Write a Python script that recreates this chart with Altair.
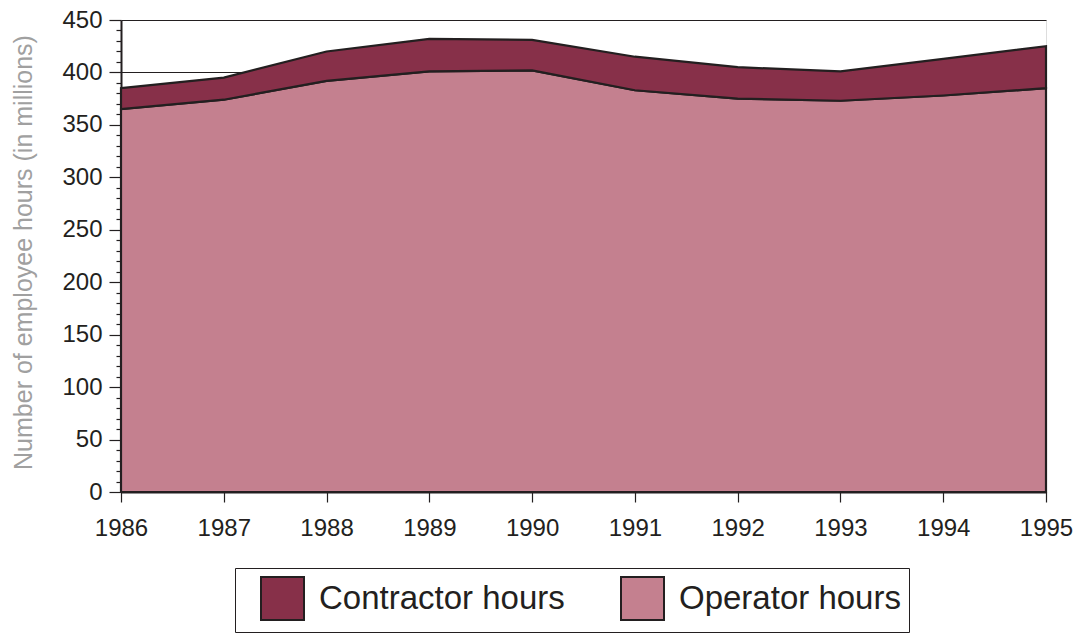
import altair as alt
import pandas as pd

years = [1986, 1987, 1988, 1989, 1990, 1991, 1992, 1993, 1994, 1995]
operator_hours = [365, 374, 392, 401, 402, 383, 375, 373, 378, 385]
contractor_hours = [20, 21, 28, 31, 29, 32, 30, 28, 35, 40]
series_names = ["Contractor hours", "Operator hours"]
series_colors = ["#873049", "#C4808F"]
y_ticks = list(range(0, 451, 10))

rows = []
for yr, op, ct in zip(years, operator_hours, contractor_hours):
    rows.append({"year": yr, "series": "Operator hours", "low": 0, "high": op})
    rows.append({"year": yr, "series": "Contractor hours", "low": op, "high": op + ct})
df = pd.DataFrame(rows)

FONT = "Liberation Sans"
DARK = "#231F20"

chart = alt.Chart(df).mark_area(stroke=DARK, strokeWidth=2.2, opacity=1).encode(
    x=alt.X("year:Q",
            scale=alt.Scale(domain=[1986, 1995], nice=False, zero=False),
            axis=alt.Axis(values=years, format="d", title=None, tickSize=10,
                          labelPadding=14, labelFontSize=24, labelColor=DARK,
                          labelFont=FONT, tickColor=DARK, tickWidth=1.2,
                          domainColor=DARK, domainWidth=2, grid=False,
                          labelFlush=False)),
    y=alt.Y("high:Q",
            scale=alt.Scale(domain=[0, 450], nice=False),
            axis=alt.Axis(values=y_ticks,
                          labelExpr="datum.value % 50 === 0 ? datum.label : ''",
                          tickSize={"condition": {"test": "datum.value % 50 === 0", "value": 12}, "value": 5},
                          labelPadding=7, labelFontSize=24, labelColor=DARK,
                          labelFont=FONT, tickColor=DARK, tickWidth=1.2,
                          domainColor=DARK, domainWidth=2,
                          grid=True, gridColor=DARK, gridWidth=1,
                          gridOpacity={"condition": {"test": "datum.value % 50 === 0", "value": 1}, "value": 0},
                          title="Number of employee hours (in millions)",
                          titleFontSize=25, titleFont=FONT, titleFontWeight="normal",
                          titleColor="#a0a0a0", titleAngle=270, titleAlign="center",
                          titleBaseline="middle", titleX=-98, titleY=232)),
    y2="low:Q",
    color=alt.Color("series:N",
                    scale=alt.Scale(domain=series_names, range=series_colors),
                    legend=alt.Legend(orient="none", legendX=114, legendY=548,
                                      direction="horizontal", columns=2,
                                      title=" ", titleOrient="left", titleFontSize=1,
                                      titlePadding=17,
                                      symbolType="square", symbolSize=1849,
                                      symbolStrokeColor=DARK, symbolStrokeWidth=2,
                                      symbolOpacity=1,
                                      labelFontSize=33, labelFont=FONT, labelColor=DARK,
                                      labelOffset=14, labelLimit=500, columnPadding=52,
                                      padding=8, strokeColor=DARK, fillColor="white")),
    order=alt.Order("series:N", sort="descending"),
).properties(
    width=925, height=472,
    autosize=alt.AutoSizeParams(type="none"),
    padding={"left": 113, "top": 12, "right": 30, "bottom": 142},
).configure_view(
    stroke=DARK, strokeWidth=2
).configure(
    font=FONT, background="white"
)

chart.save("out.html", embed_options={"renderer": "svg", "actions": False})
